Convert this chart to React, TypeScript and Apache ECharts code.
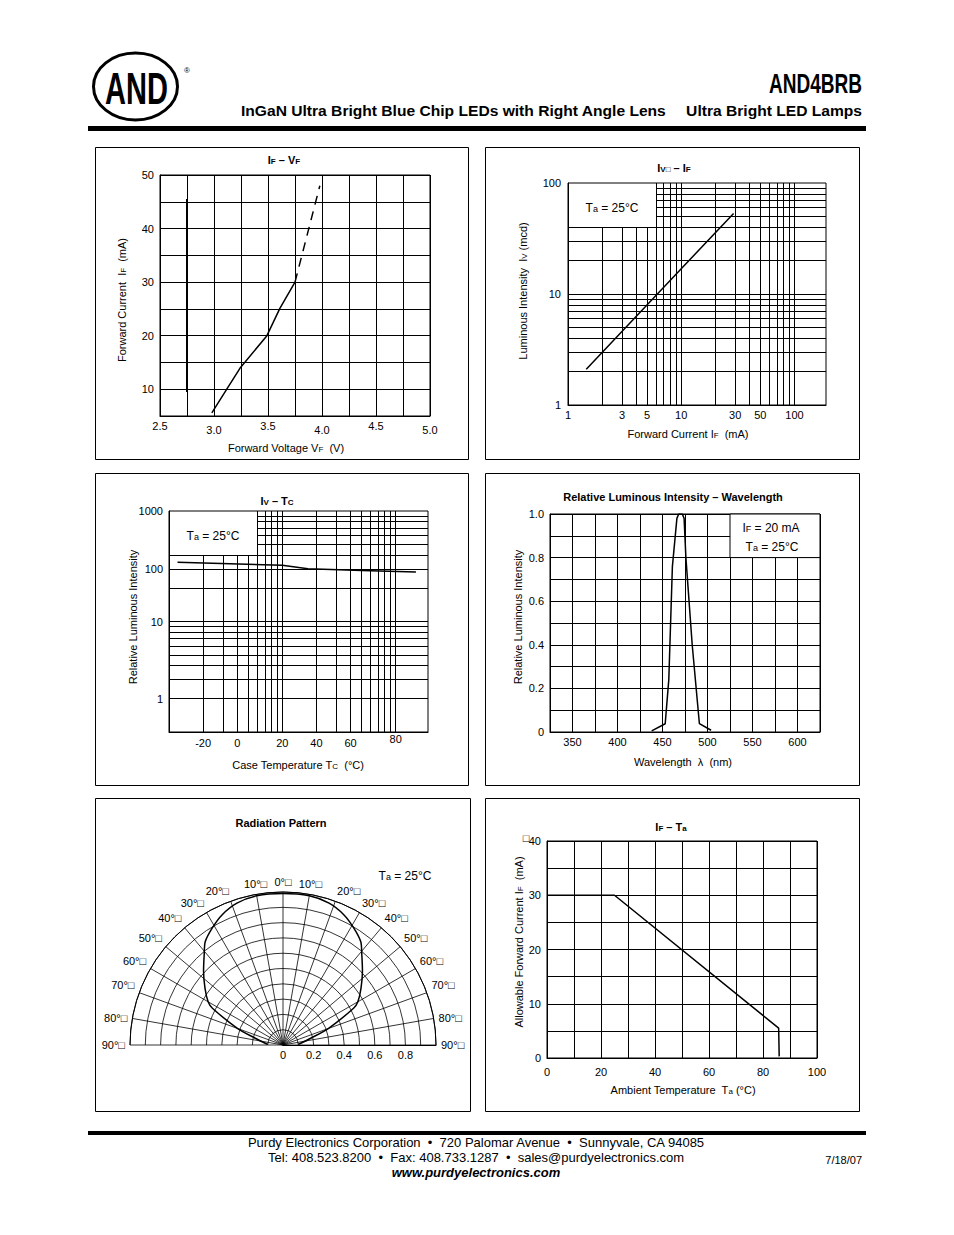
import React, { useEffect, useRef } from 'react';
import * as echarts from 'echarts';

const FONT = '"Liberation Sans", Arial, Helvetica, sans-serif';
const log10 = Math.log10;

// ---------- Chart 1: IF – VF ----------
const vfCurveV = [2.98, 3.13, 3.24, 3.49, 3.61, 3.75];
const vfCurveI = [5.6, 10.4, 13.9, 20, 25.1, 30];
const vfDashV = [3.75, 3.98];
const vfDashI = [30, 48];
const vfBarV = [2.75, 2.75];
const vfBarI = [9.5, 45.5];

// ---------- Chart 2: IV – IF (log-log) ----------
const ivIfCurrent = [1.45, 10, 29];
const ivIfIntensity = [2.1, 16.9, 53];
const logGridValues = [1, 2, 3, 4, 5, 6, 7, 8, 9, 10, 20, 30, 40, 50, 60, 70, 80, 90, 100];
const ifTickLabels = [1, 3, 5, 10, 30, 50, 100];
const ivTickLabels = [1, 10, 100];
const ifAxisMax = 190;
const taBoxCorner = [6, 40];

// ---------- Chart 3: IV – TC (drawn on the same log template grid) ----------
const tcTemps = [-35, 20, 35, 65, 89];
const tcIntensity = [130, 115, 100, 93, 87];
const tcTickLabels = [-20, 0, 20, 40, 60, 80];
const tcTickGrid = [2, 4, 10, 20, 40, 100];
const rliTickLabels = [1, 10, 100, 1000];
const rliTickGrid = [2, 10, 30, 100];
const tcAxisMax = 193;

// ---------- Chart 4: Relative Luminous Intensity – Wavelength ----------
const wlNm = [438, 453, 457, 461, 466, 468, 472, 474, 476, 483, 491, 504];
const wlRel = [0.005, 0.038, 0.24, 0.76, 0.98, 1.0, 1.0, 0.98, 0.8, 0.4, 0.038, 0.008];

// ---------- Chart 5: Radiation pattern ----------
const radAngles = [0, 10, 18, 25, 31, 37, 41, 47, 54, 60, 62.5, 70, 76, 88];
const radValues = [0.99, 0.99, 0.975, 0.94, 0.895, 0.845, 0.785, 0.71, 0.63, 0.565, 0.52, 0.315, 0.19, 0.1];

// ---------- Chart 6: IF – Ta ----------
const taTemp = [0, 25, 85.8, 86];
const taCurrent = [30, 30, 5.5, 0.3];

const interp = (x: number, xs: number[], ys: number[]) => {
  let i = 0;
  if (x >= xs[xs.length - 1]) i = xs.length - 2;
  else if (x > xs[0]) { while (x > xs[i + 1]) i++; }
  const t = (x - xs[i]) / (xs[i + 1] - xs[i]);
  return ys[i] + t * (ys[i + 1] - ys[i]);
};
const tempToGrid = (t: number) => interp(t, tcTickLabels, tcTickGrid.map(log10));
const relToGrid = (v: number) => interp(log10(v), rliTickLabels.map(log10), rliTickGrid.map(log10));

function logGridLines(xMaxLog: number) {
  const bx = log10(taBoxCorner[0]);
  const by = log10(taBoxCorner[1]);
  const segs: number[][][] = [];
  logGridValues.forEach((v) => {
    const lx = log10(v);
    if (lx <= 0 || lx >= xMaxLog) return;
    segs.push([[lx, 0], [lx, lx < bx - 1e-9 ? by : 2]]);
  });
  logGridValues.forEach((v) => {
    const ly = log10(v);
    if (ly <= 0 || ly >= 2) return;
    segs.push([[ly > by + 1e-9 ? bx : 0, ly], [xMaxLog, ly]]);
  });
  return segs.map(([a, b]) => [{ coord: a }, { coord: b }]);
}

const zip = (a: number[], b: number[]) => a.map((v, i) => [v, b[i]]);

const BLACK = '#000';
const lbl = (extra: any = {}) => ({ color: BLACK, fontSize: 11, fontFamily: FONT, ...extra });
const axisBase = {
  axisLine: { show: true, lineStyle: { color: BLACK, width: 1 } },
  axisTick: { show: false },
  splitLine: { show: true, lineStyle: { color: BLACK, width: 1 } },
};
const markLineBase = {
  symbol: ['none', 'none'],
  silent: true,
  animation: false,
  label: { show: false },
  emphasis: { disabled: true },
  lineStyle: { color: BLACK, width: 1, type: 'solid' },
};
const lineSeries = (xi: number, data: any[], width = 1.5) => ({
  type: 'line',
  xAxisIndex: xi,
  yAxisIndex: xi,
  data,
  symbol: 'none',
  silent: true,
  lineStyle: { color: BLACK, width },
});

// rich text styles for graphic texts
const mkRich = (size: number, bold = false) => ({
  t: { fontSize: size, fontFamily: FONT, fontWeight: bold ? 'bold' : 'normal', fill: BLACK, lineHeight: size + 3, verticalAlign: 'bottom' },
  s: { fontSize: Math.round(size * 0.72), fontFamily: FONT, fontWeight: bold ? 'bold' : 'normal', fill: BLACK, lineHeight: Math.round(size * 0.5), verticalAlign: 'bottom' },
});
const rt = (x: number, y: number, text: string, size = 11, bold = false, rot = 0, extra: any = {}) => ({
  type: 'text',
  x,
  y,
  z: 50,
  rotation: rot,
  silent: true,
  style: {
    text,
    rich: mkRich(size, bold),
    align: 'center', verticalAlign: 'middle', textAlign: 'center', textVerticalAlign: 'middle',
    fontSize: size, fontFamily: FONT, fontWeight: bold ? 'bold' : 'normal', fill: BLACK,
    ...extra,
  },
});
const plain = (x: number, y: number, text: string, size: number, align: string, extra: any = {}, scaleX = 1) => ({
  type: 'text', silent: true, x, y, z: 50, scaleX,
  style: {
    text, fontSize: size, fontFamily: FONT, fill: BLACK,
    align, verticalAlign: 'middle', textAlign: align, textVerticalAlign: 'middle',
    ...extra,
  },
});
const panel = (x0: number, y0: number, x1: number, y1: number) => ({
  type: 'rect', silent: true, z: 50,
  shape: { x: x0 + 0.5, y: y0 + 0.5, width: x1 - x0, height: y1 - y0 },
  style: { fill: 'none', stroke: BLACK, lineWidth: 1 },
});

function buildOption(): any {
  const gridBase = { show: true, borderColor: BLACK, borderWidth: 1, backgroundColor: 'transparent', containLabel: false, outerBoundsMode: 'none' };
  const ifMaxLog = log10(ifAxisMax);
  const tcMaxLog = log10(tcAxisMax);

  const radialData = [
    ...radAngles.slice().reverse().map((a, i) => [radValues[radValues.length - 1 - i], -a]),
    ...radAngles.slice(1).map((a, i) => [radValues[i + 1], a]),
  ];

  const graphicEls: any[] = [
    // header
    { type: 'ellipse', silent: true, z: 50, shape: { cx: 135.5, cy: 86.5, rx: 42, ry: 33.5 }, style: { fill: 'none', stroke: BLACK, lineWidth: 3 } },
    plain(136.5, 89, 'AND', 44, 'center', { fontWeight: 'bold' }, 0.66),
    plain(187, 70, '®', 8, 'center'),
    plain(862, 83, 'AND4BRB', 28, 'right', { fontWeight: 'bold' }, 0.68),
    plain(241, 111, 'InGaN Ultra Bright Blue Chip LEDs with Right Angle Lens', 15, 'left', { fontWeight: 'bold' }, 1.04),
    plain(862, 111, 'Ultra Bright LED Lamps', 15, 'right', { fontWeight: 'bold' }, 1.04),
    { type: 'rect', silent: true, z: 50, shape: { x: 88, y: 126, width: 778, height: 5 }, style: { fill: BLACK } },
    // panels
    panel(95, 147, 468, 459), panel(485, 147, 859, 459),
    panel(95, 473, 468, 785), panel(485, 473, 859, 785),
    panel(95, 798, 470, 1111), panel(485, 798, 859, 1111),
    // chart 1 texts
    rt(284, 158, '{t|I}{s|F}{t| – V}{s|F}', 11, true),
    rt(120, 300, '{t|Forward Current  I}{s|F}{t|  (mA)}', 11, false, Math.PI / 2),
    rt(286, 446, '{t|Forward Voltage V}{s|F}{t|  (V)}', 11),
    // chart 2 texts
    rt(674, 166, '{t|I}{s|V□}{t| – I}{s|F}', 11, true),
    rt(521, 291, '{t|Luminous Intensity  I}{s|V}{t| (mcd)}', 11, false, Math.PI / 2),
    rt(688, 432, '{t|Forward Current I}{s|F}{t|  (mA)}', 11),
    rt(612, 206, '{t|T}{s|a}{t| = 25°C}', 12),
    // chart 3 texts
    rt(277, 499, '{t|I}{s|V}{t| – T}{s|C}', 11, true),
    rt(131, 617, '{t|Relative Luminous Intensity}', 11, false, Math.PI / 2),
    rt(298, 763, '{t|Case Temperature T}{s|C}{t|  (°C)}', 11),
    rt(213, 534, '{t|T}{s|a}{t| = 25°C}', 12),
    // chart 4 texts
    rt(673, 495, '{t|Relative Luminous Intensity – Wavelength}', 11, true),
    rt(516, 617, '{t|Relative Luminous Intensity}', 11, false, Math.PI / 2),
    rt(683, 760, '{t|Wavelength  λ  (nm)}', 11),
    rt(771, 526, '{t|I}{s|F}{t| = 20 mA}', 12),
    rt(772, 545, '{t|T}{s|a}{t| = 25°C}', 12),
    // chart 5 texts
    rt(281, 821, '{t|Radiation Pattern}', 11, true),
    rt(405, 874, '{t|T}{s|a}{t| = 25°C}', 12),
    // chart 6 texts
    rt(671, 825, '{t|I}{s|F}{t| – T}{s|a}', 11, true),
    rt(517, 942, '{t|Allowable Forward Current I}{s|F}{t|  (mA)}', 11, false, Math.PI / 2),
    rt(683, 1088, '{t|Ambient Temperature  T}{s|a}{t| (°C)}', 11),
    rt(526, 838, '□', 11),
    // footer
    { type: 'rect', silent: true, z: 50, shape: { x: 88, y: 1131, width: 778, height: 4 }, style: { fill: BLACK } },
    rt(476, 1142, 'Purdy Electronics Corporation  •  720 Palomar Avenue  •  Sunnyvale, CA 94085', 13),
    rt(476, 1157, 'Tel: 408.523.8200  •  Fax: 408.733.1287  •  sales@purdyelectronics.com', 13),
    plain(476, 1172, 'www.purdyelectronics.com', 13, 'center', { fontWeight: 'bold', fontStyle: 'italic' }),
    plain(862, 1160, '7/18/07', 11, 'right'),
  ];

  return {
    animation: false,
    backgroundColor: '#fff',
    textStyle: { fontFamily: FONT, color: BLACK },
    grid: [
      { ...gridBase, left: 160, top: 175, width: 270, height: 241 },
      { ...gridBase, left: 568, top: 183, width: 258, height: 222 },
      { ...gridBase, left: 169, top: 511, width: 259, height: 221 },
      { ...gridBase, left: 550, top: 514, width: 270, height: 218 },
      { ...gridBase, left: 547, top: 841, width: 270, height: 217 },
    ],
    xAxis: [
      {
        ...axisBase, gridIndex: 0, type: 'value', min: 2.5, max: 5, interval: 0.25,
        axisLabel: {
          ...lbl(), margin: 4,
          formatter: (v: number) => {
            const k = Math.round((v - 2.5) / 0.25);
            if (k % 2) return '';
            const s = v.toFixed(1);
            return (k / 2) % 2 ? `{lo|${s}}` : `{hi|${s}}`;
          },
          rich: { hi: lbl(), lo: lbl({ padding: [4, 0, 0, 0] }) },
        },
      },
      {
        ...axisBase, gridIndex: 1, type: 'value', min: 0, max: ifMaxLog,
        splitLine: { show: false },
        axisLabel: { ...lbl(), margin: 4, customValues: ifTickLabels.map(log10), formatter: (v: number) => String(Math.round(Math.pow(10, v))) },
      },
      {
        ...axisBase, gridIndex: 2, type: 'value', min: 0, max: tcMaxLog,
        splitLine: { show: false },
        axisLabel: {
          ...lbl(), margin: 1, customValues: tcTickGrid.map(log10),
          formatter: (v: number) => {
            const i = tcTickGrid.findIndex((g) => Math.abs(log10(g) - v) < 1e-6);
            if (i < 0) return '';
            return i === tcTickLabels.length - 1 ? `{hi|${tcTickLabels[i]}}` : `{lo|${tcTickLabels[i]}}`;
          },
          rich: { hi: lbl(), lo: lbl({ padding: [4, 0, 0, 0] }) },
        },
      },
      {
        ...axisBase, gridIndex: 3, type: 'value', min: 325, max: 625, interval: 25,
        axisLabel: { ...lbl(), margin: 4, formatter: (v: number) => (Math.round(v) % 50 === 0 ? String(Math.round(v)) : '') },
      },
      {
        ...axisBase, gridIndex: 4, type: 'value', min: 0, max: 100, interval: 10,
        axisLabel: { ...lbl(), margin: 8, formatter: (v: number) => (Math.round(v) % 20 === 0 ? String(Math.round(v)) : '') },
      },
    ],
    yAxis: [
      {
        ...axisBase, gridIndex: 0, type: 'value', min: 5, max: 50, interval: 5,
        axisLabel: { ...lbl(), margin: 6, formatter: (v: number) => (Math.round(v) % 10 === 0 ? String(Math.round(v)) : '') },
      },
      {
        ...axisBase, gridIndex: 1, type: 'value', min: 0, max: 2,
        splitLine: { show: false },
        axisLabel: { ...lbl(), margin: 7, customValues: ivTickLabels.map(log10), formatter: (v: number) => String(Math.round(Math.pow(10, v))) },
      },
      {
        ...axisBase, gridIndex: 2, type: 'value', min: 0, max: 2,
        splitLine: { show: false },
        axisLabel: {
          ...lbl(), margin: 6, customValues: rliTickGrid.map(log10),
          formatter: (v: number) => {
            const i = rliTickGrid.findIndex((g) => Math.abs(log10(g) - v) < 1e-6);
            return i < 0 ? '' : String(rliTickLabels[i]);
          },
        },
      },
      {
        ...axisBase, gridIndex: 3, type: 'value', min: 0, max: 1, interval: 0.1,
        axisLabel: {
          ...lbl(), margin: 6,
          formatter: (v: number) => {
            const k = Math.round(v * 10);
            if (k % 2) return '';
            return k === 0 ? '0' : (k / 10).toFixed(1);
          },
        },
      },
      {
        ...axisBase, gridIndex: 4, type: 'value', min: 0, max: 40, interval: 5,
        axisLabel: { ...lbl(), margin: 6, formatter: (v: number) => (Math.round(v) % 10 === 0 ? String(Math.round(v)) : '') },
      },
    ],
    polar: { center: [283, 1045], radius: 153 },
    angleAxis: {
      type: 'value', min: -90, max: 90, interval: 10,
      startAngle: 0, endAngle: 180, clockwise: false,
      axisLine: { show: true, lineStyle: { color: BLACK, width: 1 } },
      axisTick: { show: false },
      splitLine: { show: true, lineStyle: { color: BLACK, width: 0.8 } },
      axisLabel: { ...lbl(), margin: 5, formatter: (v: number) => `${Math.abs(Math.round(v))}°□` },
    },
    radiusAxis: {
      type: 'value', min: 0, max: 1, interval: 0.1,
      axisLine: { show: true, lineStyle: { color: BLACK, width: 1 } },
      axisTick: { show: false },
      splitLine: { show: true, lineStyle: { color: BLACK, width: 0.8 } },
      axisLabel: {
        ...lbl(), margin: -4, verticalAlign: 'top',
        formatter: (v: number) => {
          const k = Math.round(v * 10);
          if (k % 2 || k >= 10) return '';
          return k === 0 ? '0' : (k / 10).toFixed(1);
        },
      },
    },
    series: [
      // chart 1
      lineSeries(0, zip(vfCurveV, vfCurveI), 1.5),
      { ...lineSeries(0, zip(vfDashV, vfDashI), 1.5), lineStyle: { color: BLACK, width: 1.5, type: [9, 7] } },
      lineSeries(0, zip(vfBarV, vfBarI), 2),
      // chart 2
      {
        ...lineSeries(1, ivIfCurrent.map((c, i) => [log10(c), log10(ivIfIntensity[i])]), 1.5),
        markLine: { ...markLineBase, data: logGridLines(ifMaxLog) },
      },
      // chart 3
      {
        ...lineSeries(2, tcTemps.map((t, i) => [tempToGrid(t), relToGrid(tcIntensity[i])]), 1.5),
        markLine: { ...markLineBase, data: logGridLines(tcMaxLog) },
      },
      // chart 4
      {
        ...lineSeries(3, zip(wlNm, wlRel), 1.5),
        markArea: {
          silent: true, animation: false,
          label: { show: false },
          itemStyle: { color: '#fff', borderColor: BLACK, borderWidth: 1 },
          emphasis: { disabled: true },
          data: [[{ coord: [525, 0.8] }, { coord: [625, 1.0] }]],
        },
      },
      // chart 5
      {
        type: 'line', coordinateSystem: 'polar', data: radialData, symbol: 'none', silent: true,
        smooth: 0.25,
        lineStyle: { color: BLACK, width: 1.5 },
      },
      // chart 6
      lineSeries(4, zip(taTemp, taCurrent), 1.5),
    ],
    graphic: { elements: graphicEls },
  };
}

export default function App() {
  const ref = useRef<HTMLDivElement>(null);
  useEffect(() => {
    if (!ref.current) return;
    const chart = echarts.init(ref.current, null, { renderer: 'svg', width: 954, height: 1235 });
    chart.setOption(buildOption());
    return () => chart.dispose();
  }, []);
  return (
    <div
      ref={ref}
      style={{ position: 'absolute', left: 0, top: 0, width: 954, height: 1235, background: '#fff' }}
    />
  );
}
